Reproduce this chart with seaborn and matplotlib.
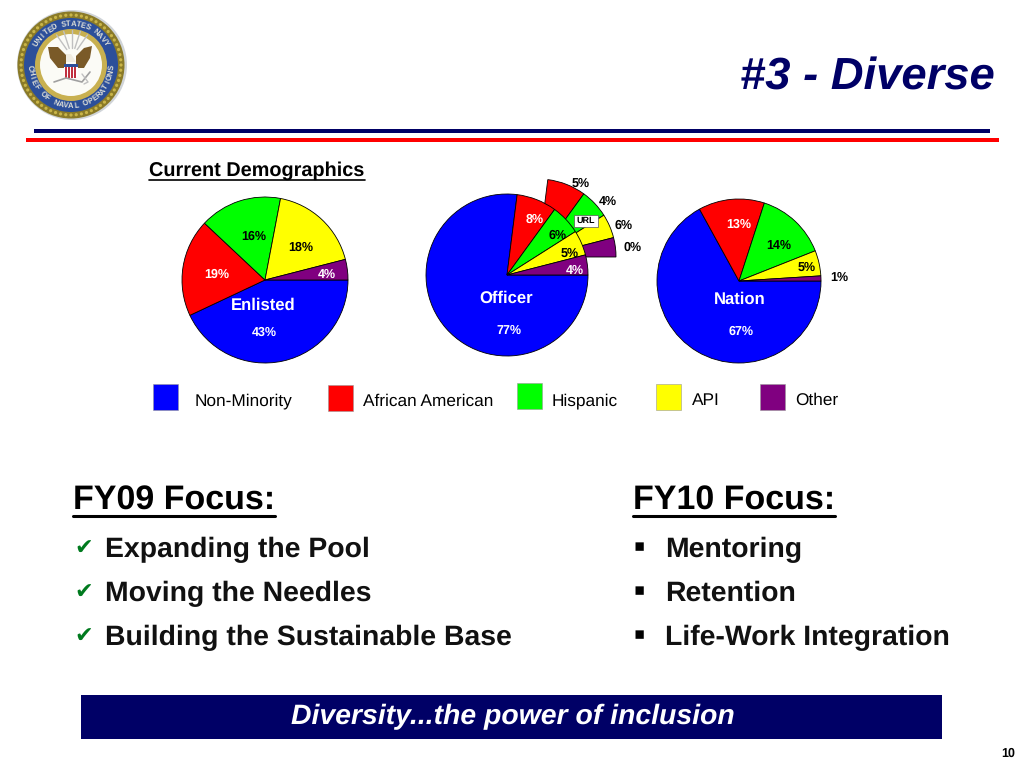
import numpy as np
import seaborn as sns
import matplotlib.pyplot as plt
from matplotlib.patches import Circle, Polygon, Rectangle

W, H = 1024, 768

groups = ['Non-Minority', 'African American', 'Hispanic', 'API', 'Other']
group_colors = ['#0000ff', '#ff0000', '#00ff00', '#ffff00', '#800080']

enlisted = [43, 19, 16, 18, 4]
officer = [77, 8, 6, 5, 4]
nation = [67, 13, 14, 5, 1]
# labels of the pulled out URL part of the officer pie
url_labels = [5, 4, 6, 0]

fy09_items = ['Expanding the Pool', 'Moving the Needles', 'Building the Sustainable Base']
fy10_items = ['Mentoring', 'Retention', 'Life-Work Integration']

NAVY = '#000066'

sns.set_theme(style='white')
plt.rcParams['font.family'] = ['Liberation Sans', 'DejaVu Sans']
plt.rcParams['text.hinting'] = 'no_hinting'
palette = sns.color_palette(group_colors)

fig = plt.figure(figsize=(W / 100, H / 100), dpi=100, facecolor='white')


def draw_pie(values, cx, cy, r, zorder=1, hide_first=False):
    # axes placed in pixels, pie() leaves 1.25 radius either side
    s = 1.25 * r
    pie_ax = fig.add_axes([(cx - s) / W, 1 - (cy + s) / H, 2 * s / W, 2 * s / H], zorder=zorder)
    wedges, _ = pie_ax.pie(values, colors=palette, startangle=0, counterclock=False,
                           wedgeprops=dict(edgecolor='black', linewidth=0.6))
    if hide_first:
        wedges[0].set_visible(False)
    return pie_ax


draw_pie(enlisted, 265, 280, 83)
draw_pie(officer, 538, 257, 78, zorder=1, hide_first=True)
draw_pie(officer, 507, 275, 81, zorder=2)
draw_pie(nation, 739, 281, 82)

# overlay in pixel coordinates for all the slide furniture
ax = fig.add_axes([0, 0, 1, 1], zorder=5)
ax.set_xlim(0, W)
ax.set_ylim(H, 0)
ax.axis('off')
ax.patch.set_alpha(0)


def txt(x, y, s, size=10, color='black', weight='normal', style='normal', ha='center', va='center', **kw):
    return ax.text(x, y, s, fontsize=size, color=color, fontweight=weight, fontstyle=style,
                   ha=ha, va=va, **kw)


def pct(v):
    return f'{v}%'


# header
txt(995, 90, '#3 - Diverse', size=32.7, color=NAVY, weight='bold', style='italic', ha='right', va='baseline')
ax.add_patch(Rectangle((34, 129), 956, 4, color=NAVY, lw=0))
ax.add_patch(Rectangle((26, 138), 973, 4, color='#ff0000', lw=0))

# seal
cx, cy = 72, 65
ax.add_patch(Circle((cx, cy), 55, color='#d0d4d8', lw=0))
ax.add_patch(Circle((cx - 1, cy), 53.5, color='#8a7a28', lw=0))
ax.add_patch(Circle((cx - 1, cy), 47, color='#2c4f9a', lw=0))
ax.add_patch(Circle((cx - 1, cy), 36, color='#c8b050', lw=0))
ax.add_patch(Circle((cx - 1, cy), 31, color='#fbfbf6', lw=0))
for t in np.linspace(0, 2 * np.pi, 60, endpoint=False):
    ax.add_patch(Circle((cx - 1 + 50 * np.cos(t), cy + 50 * np.sin(t)), 1.6, color='#c9b548', lw=0))


def ring_text(s, mid_deg, step, r, bottom=False):
    n = len(s)
    for i, ch in enumerate(s):
        if bottom:
            a = np.radians(mid_deg + (n / 2 - i - 0.5) * step)
            rot = np.degrees(a) - 90
        else:
            a = np.radians(mid_deg - (n / 2 - i - 0.5) * step)
            rot = np.degrees(a) + 90
        ax.text(cx - 1 + r * np.cos(a), cy + r * np.sin(a), ch, fontsize=5.5, color='#dfe0d8',
                ha='center', va='center', rotation=-rot, fontweight='bold')


ring_text('UNITED STATES NAVY', -90, 6.8, 41)
ring_text('CHIEF OF NAVAL OPERATIONS', 90, 7.2, 41, bottom=True)

# rays, wings, body, shield and anchor of the seal
for t in np.radians([-125, -108, -90, -72, -55]):
    ax.plot([cx + 9 * np.cos(t), cx + 27 * np.cos(t)], [cy - 8 + 9 * np.sin(t), cy - 8 + 27 * np.sin(t)],
            color='#c0c0c0', lw=1)
ax.add_patch(Polygon([[48, 47], [58, 47], [66, 55], [66, 68], [58, 68], [50, 58]], color='#7a5a28', lw=0))
ax.add_patch(Polygon([[92, 46], [84, 48], [76, 56], [76, 68], [84, 68], [90, 58]], color='#7a5a28', lw=0))
ax.add_patch(Polygon([[66, 54], [71, 54], [76, 62], [66, 62]], color='#f0ece0', lw=0))
ax.add_patch(Polygon([[64, 64], [78, 64], [78, 76], [71, 82], [64, 76]], color='#ffffff', lw=0))
for x0 in [65, 68, 71, 74]:
    ax.add_patch(Polygon([[x0, 67], [x0 + 1.5, 67], [x0 + 1.5, 78], [x0, 78]], color='#c03040', lw=0))
ax.add_patch(Rectangle((64, 64), 14, 3, color='#2c4f9a', lw=0))
ax.plot([54, 66, 82, 90], [82, 78, 82, 72], color='#a0a0a0', lw=1.2)
ax.plot([82, 88, 84], [74, 82, 84], color='#c0c0c0', lw=1)

# pie labels
txt(257, 171, 'Current Demographics', size=14.3, weight='bold')
ax.plot([149, 365], [180, 180], color='black', lw=1.2)

PCT = 9
for (x, y), v, c in zip([(264, 332), (217, 275), (254, 237), (301, 248), (327, 275)], enlisted,
                        ['white', 'white', 'black', 'black', 'white']):
    txt(x, y, pct(v), size=PCT, color=c, weight='bold')
txt(263, 305, 'Enlisted', size=12, color='white', weight='bold')

for (x, y), v, c in zip([(509, 331), (535, 220), (558, 236), (570, 254), (575, 271)], officer,
                        ['white', 'white', 'black', 'black', 'white']):
    txt(x, y, pct(v), size=PCT, color=c, weight='bold')
txt(506, 298, 'Officer', size=12, color='white', weight='bold')

for (x, y), v in zip([(581, 184), (608, 202), (624, 226), (633, 248)], url_labels):
    txt(x, y, pct(v), size=PCT, weight='bold')
txt(586, 221, 'URL', size=6.5, weight='bold',
    bbox=dict(boxstyle='square,pad=0.25', facecolor='white', edgecolor='#555555', linewidth=0.5))

for (x, y), v, c in zip([(741, 332), (739, 224), (779, 246), (807, 268), (839, 278)], nation,
                        ['white', 'white', 'black', 'black', 'black']):
    txt(x, y, pct(v), size=PCT, color=c, weight='bold')
txt(740, 299, 'Nation', size=12, color='white', weight='bold')

# legend
swatch_x = [153, 328, 517, 656, 760]
swatch_y = [384, 385, 383, 384, 384]
label_x = [195, 363, 552, 692, 795]
label_y = [405, 406, 405, 405, 405]
for i, g in enumerate(groups):
    ax.add_patch(Rectangle((swatch_x[i], swatch_y[i]), 25, 26, facecolor=palette[i],
                           edgecolor='#999999', lw=0.4))
    txt(label_x[i], label_y[i], g, size=12.4, ha='left', va='baseline')

# focus lists, y is the text baseline
row_y = [557, 601, 645]
txt(73, 510, 'FY09 Focus:', size=24.5, weight='bold', ha='left', va='baseline')
ax.plot([73, 275], [515.5, 515.5], color='black', lw=2.2)
for y, item in zip(row_y, fy09_items):
    txt(74, y - 3, '\u2714', size=16, color='#007a1e', ha='left', va='baseline', family='DejaVu Sans')
    txt(105, y, item, size=20.4, weight='bold', ha='left', va='baseline', color='#111111')

txt(633, 510, 'FY10 Focus:', size=24.5, weight='bold', ha='left', va='baseline')
ax.plot([633, 835], [515.5, 515.5], color='black', lw=2.2)
for y, item in zip(row_y, fy10_items):
    txt(633, y - 6, '\u25aa', size=12, ha='left', va='baseline', family='DejaVu Sans')
    txt(665, y, item, size=20.4, weight='bold', ha='left', va='baseline', color='#111111')

# footer
ax.add_patch(Rectangle((81, 695), 861, 44, color=NAVY, lw=0))
txt(513, 724, 'Diversity...the power of inclusion', size=20.4, color='white', weight='bold', style='italic', va='baseline')
txt(1015, 754, '10', size=9, weight='bold', ha='right')

fig.savefig('out.png', dpi=100)
